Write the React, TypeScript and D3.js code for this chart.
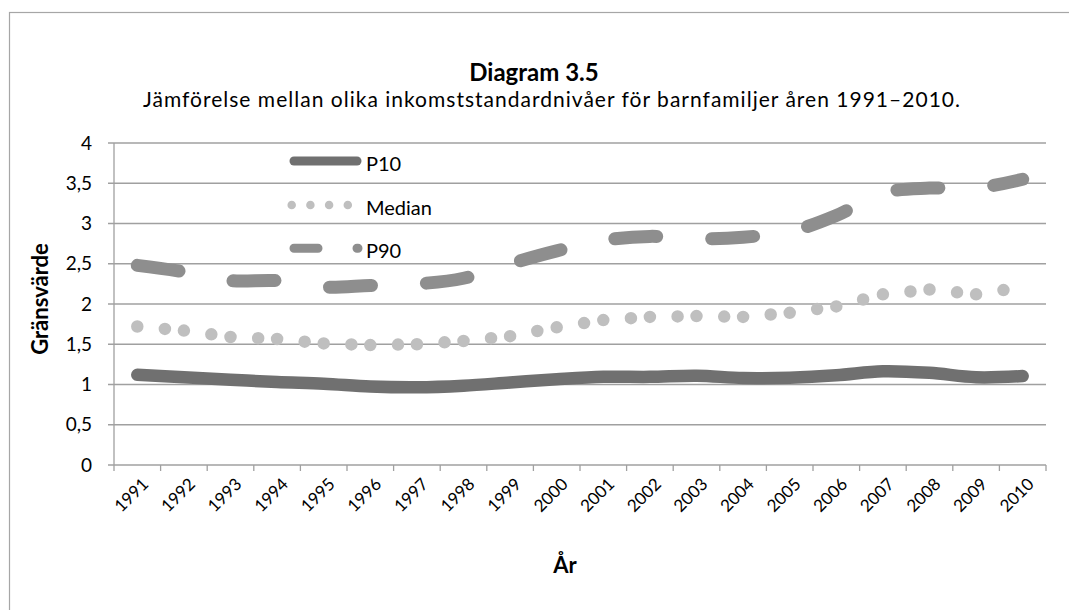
import React from "react";
import * as d3 from "d3";

const years = ["1991","1992","1993","1994","1995","1996","1997","1998","1999","2000","2001","2002","2003","2004","2005","2006","2007","2008","2009","2010"];
const p10 = [1.12, 1.09, 1.06, 1.03, 1.01, 0.975, 0.965, 0.985, 1.025, 1.065, 1.095, 1.095, 1.11, 1.08, 1.085, 1.115, 1.165, 1.145, 1.09, 1.105];
const median = [1.72, 1.67, 1.59, 1.565, 1.51, 1.49, 1.5, 1.54, 1.6, 1.71, 1.8, 1.84, 1.85, 1.84, 1.89, 1.97, 2.12, 2.18, 2.12, 2.21];
const p90 = [2.48, 2.4, 2.29, 2.29, 2.21, 2.23, 2.25, 2.32, 2.5, 2.66, 2.79, 2.84, 2.81, 2.83, 2.9, 3.1, 3.38, 3.44, 3.44, 3.55];
const yTicks = [0, 0.5, 1, 1.5, 2, 2.5, 3, 3.5, 4];
const yTickLabels = ["0", "0,5", "1", "1,5", "2", "2,5", "3", "3,5", "4"];
const seriesNames = ["P10", "Median", "P90"];

const W = 1069, H = 610;
const FONT = "Lato, 'Open Sans', sans-serif";

export default function App() {
  const x = d3.scaleBand<string>().domain(years).range([114, 1046]);
  const y = d3.scaleLinear().domain([0, 4]).range([465, 143]);
  const cx = (yr: string) => (x(yr) as number) + x.bandwidth() / 2;

  const smooth = d3.line<number>().x((_, i) => cx(years[i])).y(v => y(v)).curve(d3.curveCatmullRom.alpha(0.5));
  const p10Path = smooth(p10) as string;
  const p90Path = smooth(p90) as string;

  const medSegs = median.slice(0, -1).map((v, i) => {
    const x0 = cx(years[i]), x1 = cx(years[i + 1]);
    return `M${x0},${y(v)}L${x1},${y(median[i + 1])}`;
  });

  const gridColor = "#a0a0a0";

  return (
    <svg width={W} height={H} style={{ position: "absolute", left: 0, top: 0, background: "#fff" }} fontFamily={FONT}>
      <rect x={9.5} y={12.5} width={1200} height={800} fill="#fff" stroke="#a6a6a6" strokeWidth={1.2} />
      {/* title */}
      <text x={534} y={81} textAnchor="middle" fontSize={24} fontWeight="bold" fill="#000">Diagram 3.5</text>
      <text x={143} y={107} fontSize={21} fill="#000" textLength={817} lengthAdjust="spacing">Jämförelse mellan olika inkomststandardnivåer för barnfamiljer åren 1991–2010.</text>
      {/* grid */}
      {yTicks.map((t, i) => (
        <g key={t}>
          <line x1={108} x2={1046} y1={y(t)} y2={y(t)} stroke={gridColor} strokeWidth={1.3} />
          <text x={92} y={y(t)} dy="0.35em" textAnchor="end" fontSize={19} fill="#000">{yTickLabels[i]}</text>
        </g>
      ))}
      <line x1={114} x2={114} y1={y(4)} y2={471} stroke={gridColor} strokeWidth={1.3} />
      {years.map(yr => (
        <line key={yr} x1={(x(yr) as number) + x.bandwidth()} x2={(x(yr) as number) + x.bandwidth()} y1={465} y2={471} stroke={gridColor} strokeWidth={1.3} />
      ))}
      {years.map(yr => (
        <text key={"l" + yr} transform={`translate(${cx(yr) + 8},${481}) rotate(-45)`} textAnchor="end" dy="0.35em" fontSize={17} fill="#000">{yr}</text>
      ))}
      <text x={565} y={573} textAnchor="middle" fontSize={22} fontWeight="bold" fill="#000">År</text>
      <text transform={`translate(48,299) rotate(-90)`} textAnchor="middle" fontSize={22} fontWeight="bold" fill="#000">Gränsvärde</text>

      {/* series */}
      <path d={p10Path} fill="none" stroke="#707070" strokeWidth={12.5} strokeLinecap="round" strokeLinejoin="round" />
      {medSegs.map((d, i) => (
        <path key={i} d={d} fill="none" stroke="#bfbfbf" strokeWidth={12.5} strokeLinecap="round" strokeDasharray="0 27.7" />
      ))}
      <path d={p90Path} fill="none" stroke="#8e8e8e" strokeWidth={13} strokeLinecap="round" strokeDasharray="42 55" />

      {/* legend */}
      <line x1={294} x2={357} y1={161} y2={161} stroke="#707070" strokeWidth={9} strokeLinecap="round" />
      <line x1={291.7} x2={348} y1={205} y2={205} stroke="#bfbfbf" strokeWidth={8.5} strokeLinecap="round" strokeDasharray="0 18.7" />
      <line x1={294} x2={358.5} y1={248.3} y2={248.3} stroke="#8e8e8e" strokeWidth={9} strokeLinecap="round" strokeDasharray="24 39 1 100" />
      <text x={366} y={171} fontSize={20} fill="#000">{seriesNames[0]}</text>
      <text x={366} y={215} fontSize={20} fill="#000">{seriesNames[1]}</text>
      <text x={366} y={258} fontSize={20} fill="#000">{seriesNames[2]}</text>
    </svg>
  );
}
